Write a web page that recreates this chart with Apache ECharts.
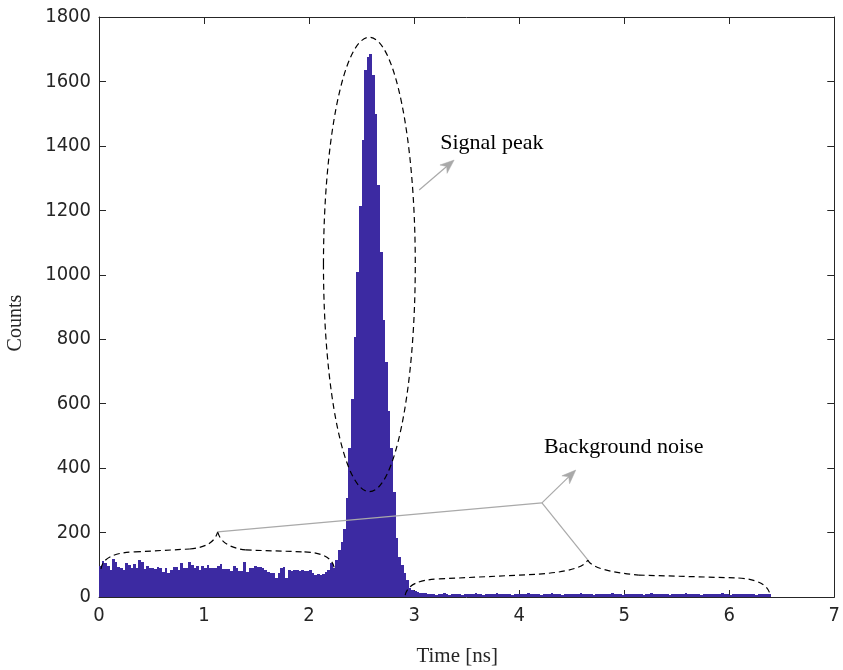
<!DOCTYPE html>
<html><head><meta charset="utf-8">
<script src="https://cdn.jsdelivr.net/npm/echarts@6/dist/echarts.min.js"></script>
<style>html,body{margin:0;padding:0;background:#fff}#c{width:843px;height:670px}</style>
</head><body><div id="c"></div>
<script>
// ---- data ----
const binWidth = 0.025;   // ns
const binStart = 0;       // ns
const countsPre = [96,112,105,97,84,118,110,94,91,84,105,99,91,101,91,115,110,87,97,89,89,87,94,89,79,91,73,84,94,94,84,105,89,91,110,99,89,97,84,97,89,99,89,91,
  89,95,102,87,87,87,81,96,91,81,81,108,79,89,91,97,94,93,91,84,79,76,73,58,73,91,94,60,84,81,84,83,81,84,81,81,84,73,68,70,68,70,79,83,105];
const countsPeak = [90,115,146,170,212,307,461,614,807,1009,1212,1418,1636,1677,1684,1620,1499,1279,1072,860,730,578,462,327,183,125,99,74,53,28,22,18,16,13,12,11];
const countsTail = [9,8,10,7,9,8,11,8,7,9,
  10,8,9,7,8,10,9,8,11,9,
  8,7,9,10,8,9,12,8,9,10,
  8,9,7,8,10,9,8,9,11,10,
  8,9,8,7,9,10,8,12,9,8,
  9,7,8,10,9,8,9,8,11,9,
  8,10,9,7,8,9,10,8,9,8,
  12,9,8,9,7,10,8,9,8,9,
  10,8,7,9,8,11,9,8,9,10,
  8,9,7,8,9,10,8,9,11,8,
  9,8,10,9,7,8,9,8,10,9,
  8,9,11,8,9,7,8,10,9,8,
  9,10,8,9,8,7,9,8,9,10,
  8];
const xTickLabels = ['0','1','2','3','4','5','6','7'];
const yTickLabels = ['0','200','400','600','800','1000','1200','1400','1600','1800'];
const xTitle = 'Time [ns]';
const yTitle = 'Counts';

// ---- annotations (data coordinates) ----
const ellipseCenter = [2.574, 1032];
const ellipseRadii = [0.437, 705];
const leftBrace = [[0.019,87],[0.038,137],[0.342,140],[0.864,149],[1.092,155],[1.130,202],[1.168,155],[1.396,146],[1.956,140],[2.222,137],[2.241,87]];
const rightBrace = [[2.915,6],[2.944,53],[3.238,56],[4.188,71],[4.606,81],[4.653,115],[4.701,81],[5.138,68],[6.087,59],[6.372,53],[6.391,3]];
const noiseHub = [4.217, 292];
const noiseArrowTip = [4.539, 394];
const noiseLabel = {text:'Background noise', at:[4.236, 466]};
const peakArrow = [[3.048,1263],[3.381,1356]];
const peakLabel = {text:'Signal peak', at:[3.248, 1409]};
const xTitleAt = [3.41, -186];
const yTitleAt = [-0.79, 850];

// ---- build ----
const counts = countsPre.concat(countsPeak, countsTail);
const bins = counts.map((v, i) => [binStart + i*binWidth, binStart + (i+1)*binWidth, v]);

const chart = echarts.init(document.getElementById('c'), null, {renderer:'canvas'});
const axisCol = '#262626';
const tickFont = "'Liberation Sans Narrow','Arial Narrow','DejaVu Sans Condensed',sans-serif";
const serif = "'Liberation Serif','Times New Roman',serif";
const xMin = +xTickLabels[0], xMax = +xTickLabels[xTickLabels.length-1], xInt = xTickLabels[1]-xTickLabels[0];
const yMin = +yTickLabels[0], yMax = +yTickLabels[yTickLabels.length-1], yInt = yTickLabels[1]-yTickLabels[0];

function xAx(pos, show){
  return {type:'value', position:pos, min:xMin, max:xMax, interval:xInt,
    axisLine:{show:true, onZero:false, lineStyle:{color:axisCol, width:1}},
    axisTick:{show:true, inside:true, length:7, lineStyle:{color:axisCol}},
    axisLabel:{show:show, margin:9, color:axisCol, fontFamily:tickFont, fontSize:20,
      formatter:(v)=>xTickLabels[Math.round((v-xMin)/xInt)]},
    splitLine:{show:false}};
}
function yAx(pos, show){
  return {type:'value', position:pos, min:yMin, max:yMax, interval:yInt,
    axisLine:{show:true, onZero:false, lineStyle:{color:axisCol, width:1}},
    axisTick:{show:true, inside:true, length:7, lineStyle:{color:axisCol}},
    axisLabel:{show:show, margin:8, color:axisCol, fontFamily:tickFont, fontSize:20,
      formatter:(v)=>yTickLabels[Math.round((v-yMin)/yInt)]},
    splitLine:{show:false}};
}

chart.setOption({
  animation:false,
  backgroundColor:'#ffffff',
  grid:{left:99, right:7, top:17, bottom:73, containLabel:false},
  xAxis:[xAx('bottom', true), xAx('top', false)],
  yAxis:[yAx('left', true), yAx('right', false)],
  series:[{
    type:'custom', xAxisIndex:0, yAxisIndex:0,
    encode:{x:[0,1], y:2},
    data:bins,
    renderItem:function(params, api){
      const p0 = api.coord([api.value(0), 0]);
      const p1 = api.coord([api.value(1), api.value(2)]);
      const x0 = Math.round(p0[0]), x1 = Math.round(p1[0]);
      const yb = Math.round(p0[1]), yt = Math.round(p1[1]);
      return {type:'rect', shape:{x:x0, y:yt, width:x1-x0, height:yb-yt},
        style:{fill:'#3c2aa2', stroke:null}};
    },
    z:2
  }]
});

function px(p){ return chart.convertToPixel({xAxisIndex:0, yAxisIndex:0}, p); }
const dash = {stroke:'#000', lineWidth:1.2, lineDash:[6,4], fill:null};
const gray = '#a9a9a9';
const g = [];

// ellipse
const c = px(ellipseCenter);
const ex = px([ellipseCenter[0]+ellipseRadii[0], ellipseCenter[1]]);
const ey = px([ellipseCenter[0], ellipseCenter[1]+ellipseRadii[1]]);
g.push({type:'ellipse', shape:{cx:c[0], cy:c[1], rx:ex[0]-c[0], ry:c[1]-ey[1]}, style:Object.assign({}, dash), z:10});

function brace(pts){
  const P = pts.map(px);
  const q = (a,b,d) => g.push({type:'bezierCurve', shape:{x1:P[a][0],y1:P[a][1],cpx1:P[b][0],cpy1:P[b][1],x2:P[d][0],y2:P[d][1]}, style:Object.assign({}, dash), z:10});
  const l = (a,b) => g.push({type:'line', shape:{x1:P[a][0],y1:P[a][1],x2:P[b][0],y2:P[b][1]}, style:Object.assign({}, dash), z:10});
  q(0,1,2); l(2,3); q(3,4,5); q(5,6,7); l(7,8); q(8,9,10);
}
brace(leftBrace);
brace(rightBrace);

function grayLine(a,b){
  const A = px(a), B = px(b);
  g.push({type:'line', shape:{x1:A[0],y1:A[1],x2:B[0],y2:B[1]}, style:{stroke:gray, lineWidth:1.2}, z:11});
}
function arrow(a,b){
  const A = px(a), B = px(b);
  const dx = B[0]-A[0], dy = B[1]-A[1], len = Math.hypot(dx,dy);
  const ux = dx/len, uy = dy/len, nx = -uy, ny = ux;
  const L = 14, W = 5.5;
  const base = [B[0]-L*ux, B[1]-L*uy];
  g.push({type:'line', shape:{x1:A[0],y1:A[1],x2:B[0]-L*0.6*ux,y2:B[1]-L*0.6*uy}, style:{stroke:gray, lineWidth:1.2}, z:11});
  g.push({type:'polygon', shape:{points:[[B[0],B[1]],[base[0]+W*nx, base[1]+W*ny],[B[0]-L*0.7*ux, B[1]-L*0.7*uy],[base[0]-W*nx, base[1]-W*ny]]}, style:{fill:gray, stroke:gray, lineWidth:0.5}, z:11});
}
grayLine(noiseHub, leftBrace[5]);
grayLine(noiseHub, rightBrace[5]);
arrow(noiseHub, noiseArrowTip);
arrow(peakArrow[0], peakArrow[1]);

function label(l){
  const p = px(l.at);
  g.push({type:'text', x:p[0], y:p[1], style:{text:l.text, fontFamily:serif, fontSize:22, fill:'#000', textAlign:'left', textVerticalAlign:'middle'}, z:12});
}
label(noiseLabel);
label(peakLabel);

// axis titles
const xt = px(xTitleAt);
g.push({type:'text', x:xt[0], y:xt[1], style:{text:xTitle, fontFamily:serif, fontSize:21, fill:axisCol, textAlign:'center', textVerticalAlign:'middle'}, z:12});
const yt = px(yTitleAt);
g.push({type:'text', x:yt[0], y:yt[1], rotation:Math.PI/2, style:{text:yTitle, fontFamily:serif, fontSize:20, fill:axisCol, textAlign:'center', textVerticalAlign:'middle'}, z:12});

chart.setOption({graphic:{elements:g}});
</script>
</body></html>
